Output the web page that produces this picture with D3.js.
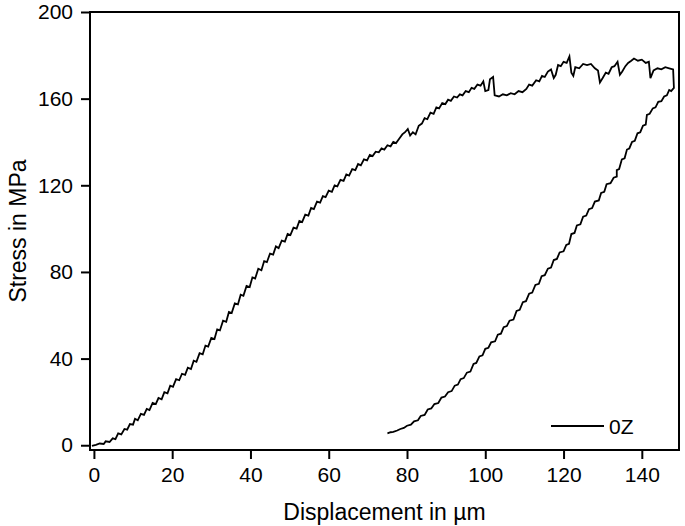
<!DOCTYPE html>
<html>
<head>
<meta charset="utf-8">
<script src="https://cdn.jsdelivr.net/npm/d3@7"></script>
<style>
  body { margin: 0; background: #fff; }
  text { font-family: "Liberation Sans", Arial, sans-serif; fill: #000; }
</style>
</head>
<body>
<svg id="chart" width="685" height="526"></svg>
<script>
// loading branch [displacement um, stress MPa]
var loadingCurve = [
  [-0.5,-0.3],[0.5,0.2],[1.5,0.8],[2.5,0.6],[3,1.8],[4,1.5],[4.8,3.2],[5.5,2.8],[6.2,5.5],[7,5],
  [7.8,7.5],[8.5,7.2],[9.2,9.8],[10,9.5],[10.5,12.2],[11.2,11.5],[12,14.5],[12.8,14],[13.5,16.8],[14.2,16.2],
  [15,19.5],[15.8,19],[16.5,21.8],[17.3,21.2],[18,24.5],[18.8,24],[19.5,27.5],[20.2,27],[21,30.5],[21.8,30],
  [22.5,33],[23.3,32.5],[24,35.8],[24.8,35.2],[25.5,39],[26.2,38.5],[27,42.5],[27.8,42],[28.5,46],[29.2,45.5],
  [30,49.5],[30.8,49],[31.5,53.5],[32.2,53],[33,57.5],[33.8,57],[34.5,61.5],[35.2,61],[36,65.5],[36.8,65],
  [37.5,69.5],[38.2,69],[39,73.5],[39.8,73],[40.5,77.5],[41.2,77],[42,81.5],[42.8,80.8],[43.5,85],[44.2,84.5],
  [45,88.5],[45.8,88],[46.5,91.8],[47.2,91],[48,94.5],[48.8,94],[49.5,97.5],[50.2,97],[51,100.5],[51.8,100],
  [52.5,103.5],[53.2,103],[54,106.5],[54.8,106],[55.5,109.5],[56.2,109],[57,112.5],[57.8,112],[58.5,115],[59.2,114.5],
  [60,117.5],[60.8,117],[61.5,120],[62.2,119.5],[63,122.5],[63.8,122],[64.5,125],[65.2,124.5],[66,127.5],[66.8,127],
  [67.5,129.8],[68.2,129.2],[69,132],[69.8,131.5],[70.5,134],[71.2,133.5],[72,135.5],[72.8,135.2],[73.5,137],[74.2,136.5],
  [75,138.5],[75.8,138],[76.5,140],[77.2,139.5],[78,141.5],[78.8,143.5],[79.5,144.5],[80.2,146],[80.8,143],[81.5,144.5],
  [82.2,143.5],[83,147.5],[83.8,148.5],[84.5,151],[85.2,150.5],[86,153.5],[86.8,153],[87.5,156],[88.2,155.5],[89,158],
  [89.8,157.5],[90.5,159.5],[91.2,159],[92,161],[92.8,160.5],[93.5,162],[94.2,161.5],[95,163.5],[95.8,163],[96.5,165],
  [97.2,164.5],[98,166.5],[98.8,166],[99.5,168],[100,163.5],[100.8,164],[101.2,169],[102,170],[102.4,161.5],[103.5,161],
  [104.5,162],[105.5,161.5],[106.5,162.5],[107.5,162],[108.5,163.5],[109.5,163],[110.5,164.5],[111.2,166.5],[112,166],[113,168.5],
  [113.8,168],[114.5,170.5],[115.2,170],[116,172.5],[116.8,173.5],[117.5,169.5],[118,171],[118.6,175.5],[119.3,175],[120,177],
  [120.8,176.5],[121.5,179.5],[122,172],[122.5,170.5],[123,174.5],[124,174],[125,176],[126,175.5],[127,176],[128,174],
  [128.8,173],[129.3,167.5],[130,169.5],[130.8,172],[131.5,171.5],[132.3,174.5],[133,175],[133.8,177],[134.4,171],[135,172.5],
  [135.8,175],[136.5,176.5],[137.3,177.5],[138,178.5],[139,177.5],[140,178],[141,176.5],[141.8,177],[142.2,169.5],[143,173],
  [144,174],[145,173.5],[146,174.5],[147,174],[148,173.5],[148.2,165]
];

// unloading branch, continues from the last loading point
var unloadingCurve = [
  [148.2,165],[147.5,163.5],[147,164],[146.4,161.5],[145.7,161],[145,158.8],[144.2,158.5],[143.5,156],[142.8,155.5],[142,153],
  [141.3,152.5],[141,148],[140.3,147.5],[139.6,144.5],[138.9,144],[138.2,140.5],[137.5,140],[136.8,137],[136.2,136.5],[135.6,132.5],
  [134.9,132],[134.2,127.5],[133.6,127],[133.6,124],[132.8,123.5],[132,121],[131,120.5],[130.4,117],[129.6,116.5],[129,113],
  [128,112.5],[127.3,109.5],[126.5,109],[125.8,106],[125,105.5],[124.3,102],[123.4,101.5],[122.8,98],[122,97.5],[121.4,93],
  [120.7,92.5],[120,89.5],[119,89],[118.3,86],[117.5,85.5],[116.8,82],[116,81.5],[115.2,78.5],[114.4,78],[113.7,74.5],
  [112.8,74],[112,70.5],[111.2,70],[110.4,66.5],[109.6,66],[108.8,62.5],[108,62],[107.2,58],[106.2,57.5],[105.5,55],
  [104.7,54.5],[104,51.5],[103.2,51],[102.5,48],[101.5,47.5],[100.8,45],[100,44.5],[99.3,41.5],[98.5,41],[97.7,38],
  [97,37.5],[96.2,34],[95.3,33.5],[94.5,31],[93.7,30.5],[93,28],[92.2,27.5],[91.4,25],[90.5,24.5],[89.7,22.5],
  [88.8,22],[88,19.5],[87,19],[86.2,17],[85.3,16.5],[84.5,14],[83.5,13.5],[82.8,11.5],[81.8,11],[81,9.5],
  [80,9],[79.2,8],[78.3,7.5],[77.5,6.8],[76.5,6.2],[75.8,6],[75,5.5]
];

var xTicks = [0, 20, 40, 60, 80, 100, 120, 140];
var yTicks = [0, 40, 80, 120, 160, 200];
var seriesName = "0Z";

var svg = d3.select("#chart"),
  margin = {top: 12, right: 6, bottom: 76, left: 90},
  width = +svg.attr("width") - margin.left - margin.right,
  height = +svg.attr("height") - margin.top - margin.bottom;
var g = svg.append("g").attr("transform", "translate(" + margin.left + "," + margin.top + ")");

var x = d3.scaleLinear()
  .domain([-1, 149.5])
  .range([0, width]);

var y = d3.scaleLinear()
  .domain([-2.2, 200])
  .range([height, 0]);

// axes
var xAxis = g.append("g")
  .attr("transform", "translate(0," + height + ")")
  .call(d3.axisBottom(x).tickValues(xTicks).tickSize(9).tickPadding(8).tickFormat(d3.format("d")));

var yAxis = g.append("g")
  .call(d3.axisLeft(y).tickValues(yTicks).tickSize(9).tickPadding(8).tickFormat(d3.format("d")));

[xAxis, yAxis].forEach(function(a) {
  a.select(".domain").remove();
  a.selectAll("line").attr("stroke", "#000").attr("stroke-width", 2);
  a.selectAll("text").style("font-size", "21px").style("font-family", "'Liberation Sans', Arial, sans-serif");
});

// frame
g.append("rect")
  .attr("x", 0)
  .attr("y", 0)
  .attr("width", width)
  .attr("height", height)
  .attr("fill", "none")
  .attr("stroke", "#000")
  .attr("stroke-width", 2);

var line = d3.line()
  .x(d => x(d[0]))
  .y(d => y(d[1]));

g.append("path")
  .datum(loadingCurve.concat(unloadingCurve.slice(1)))
  .attr("d", line)
  .attr("fill", "none")
  .attr("stroke", "#000")
  .attr("stroke-width", 1.8)
  .attr("stroke-linejoin", "miter");

// legend
g.append("line")
  .attr("x1", 461).attr("x2", 514)
  .attr("y1", 414).attr("y2", 414)
  .attr("stroke", "#000")
  .attr("stroke-width", 1.8);

g.append("text")
  .attr("x", 519)
  .attr("y", 422)
  .style("font-size", "21px")
  .text(seriesName);

// axis titles
svg.append("text")
  .attr("x", margin.left + width / 2)
  .attr("y", 520)
  .attr("text-anchor", "middle")
  .style("font-size", "23px")
  .text("Displacement in µm");

svg.append("text")
  .attr("transform", "translate(26," + (margin.top + height / 2) + ") rotate(-90)")
  .attr("text-anchor", "middle")
  .style("font-size", "23px")
  .text("Stress in MPa");
</script>
</body>
</html>
